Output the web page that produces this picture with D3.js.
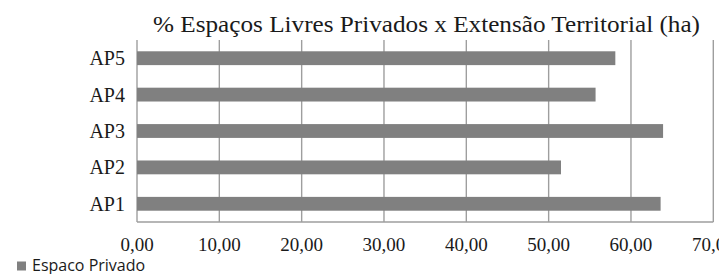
<!DOCTYPE html>
<html>
<head>
<meta charset="utf-8">
<script src="https://cdn.jsdelivr.net/npm/d3@7"></script>
<style>
  body { margin: 0; background: #fff; }
  .serif { font-family: "Liberation Serif", "Times New Roman", serif; }
  .sans { font-family: "Open Sans", "Noto Sans", sans-serif; }
</style>
</head>
<body>
<div id="chart"></div>
<script>
// data
const categories = ["AP1", "AP2", "AP3", "AP4", "AP5"];
const privado = [63.6, 51.5, 63.9, 55.7, 58.1];
const xTicks = [0, 10, 20, 30, 40, 50, 60, 70];
const seriesName = "Espaco Privado";
const title = "% Espaços Livres Privados x Extensão Territorial (ha)";

const width = 719, height = 274;
const margin = { top: 40, right: 6, bottom: 52, left: 137 };

const svg = d3.select("#chart").append("svg")
  .attr("width", width)
  .attr("height", height);

const x = d3.scaleLinear()
  .domain([0, 70])
  .range([margin.left, 713.3]);

// AP1 at bottom
const y = d3.scaleBand()
  .domain(categories.slice().reverse())
  .range([margin.top, height - margin.bottom])
  .paddingInner(0.62)
  .paddingOuter(0.31);

const data = categories.map((c, i) => ({ cat: c, value: privado[i] }));

// gridlines
svg.append("g")
  .selectAll("line")
  .data(xTicks)
  .join("line")
  .attr("x1", d => x(d)).attr("x2", d => x(d))
  .attr("y1", margin.top).attr("y2", height - margin.bottom)
  .attr("stroke", "#9e9e9e")
  .attr("stroke-width", 1.4);

// bottom axis line
svg.append("line")
  .attr("x1", x(0)).attr("x2", x(70))
  .attr("y1", height - margin.bottom).attr("y2", height - margin.bottom)
  .attr("stroke", "#9e9e9e")
  .attr("stroke-width", 1.4);

// bars
svg.append("g")
  .selectAll("rect")
  .data(data)
  .join("rect")
  .attr("x", x(0))
  .attr("y", d => y(d.cat))
  .attr("width", d => x(d.value) - x(0))
  .attr("height", y.bandwidth())
  .attr("fill", "#808080");

// x tick labels
svg.append("g")
  .attr("class", "serif")
  .attr("font-size", 19)
  .attr("fill", "#1a1a1a")
  .attr("text-anchor", "middle")
  .selectAll("text")
  .data(xTicks)
  .join("text")
  .attr("x", d => x(d))
  .attr("y", 250.5)
  .text(d => d3.format(".2f")(d).replace(".", ","));

// category labels
svg.append("g")
  .attr("class", "serif")
  .attr("font-size", 20)
  .attr("fill", "#1a1a1a")
  .attr("text-anchor", "end")
  .selectAll("text")
  .data(categories)
  .join("text")
  .attr("x", 125)
  .attr("y", d => y(d) + y.bandwidth() / 2)
  .attr("dy", "0.35em")
  .text(d => d);

// title
svg.append("text")
  .attr("class", "serif")
  .attr("x", 153)
  .attr("y", 31.5)
  .attr("font-size", 23)
  .attr("fill", "#1a1a1a")
  .attr("textLength", 547)
  .attr("lengthAdjust", "spacingAndGlyphs")
  .text(title);

// legend
const legend = svg.append("g");
legend.append("rect")
  .attr("x", 17).attr("y", 261.5)
  .attr("width", 9).attr("height", 9)
  .attr("fill", "#808080");
legend.append("text")
  .attr("class", "sans")
  .attr("x", 32)
  .attr("y", 270.5)
  .attr("font-size", 16)
  .attr("fill", "#1a1a1a")
  .text(seriesName);
</script>
</body>
</html>
